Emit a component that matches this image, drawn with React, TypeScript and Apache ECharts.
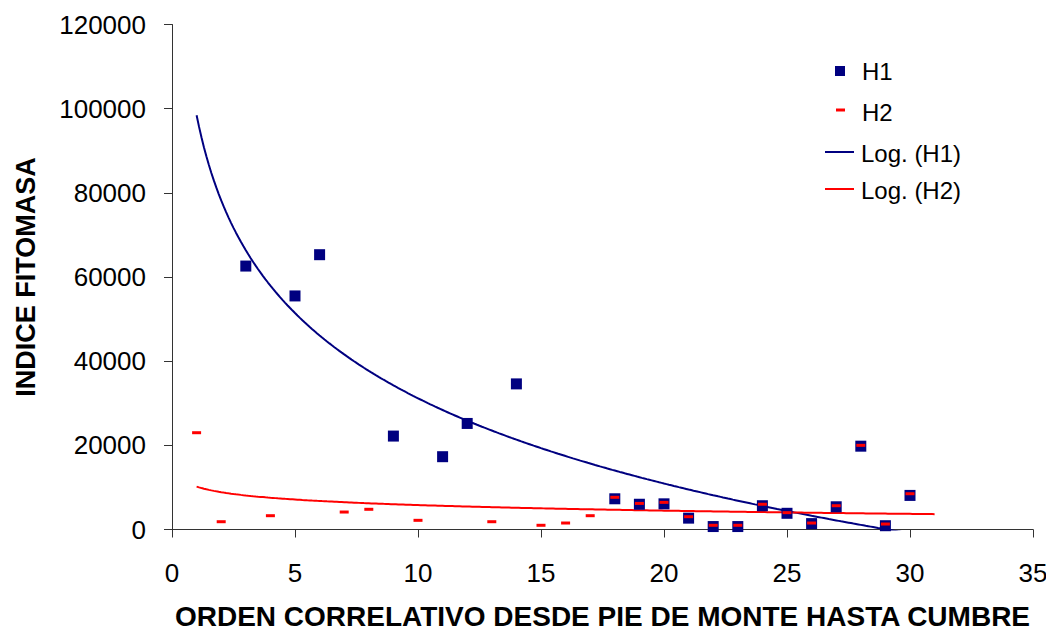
import React, { useEffect, useRef } from "react";
import * as echarts from "echarts";

// H1 observations
const h1X = [3, 5, 6, 9, 11, 12, 14, 18, 19, 20, 21, 22, 23, 24, 25, 26, 27, 28, 29, 30];
const h1Y = [62600, 55500, 65300, 22200, 17300, 25200, 34600, 7300, 6000, 6100, 2700, 700, 700, 5650, 3850, 1400, 5400, 19800, 900, 8100];

// H2 observations
const h2X = [1, 2, 4, 7, 8, 10, 13, 15, 16, 17, 18, 19, 20, 21, 22, 23, 24, 25, 26, 27, 28, 29, 30];
const h2Y = [23000, 1850, 3280, 4150, 4800, 2180, 1850, 1000, 1540, 3280, 7650, 6200, 6450, 3040, 1000, 1000, 6000, 4000, 1540, 5650, 20000, 1300, 8500];

// axis ticks
const xTicks = [0, 5, 10, 15, 20, 25, 30, 35];
const yTicks = [0, 20000, 40000, 60000, 80000, 100000, 120000];

// trend line range (Excel logarithmic trendline, forecast)
const trendStart = 1;
const trendEnd = 31;
const trendStep = 0.1;

const FONT = "'Liberation Sans', Arial, Helvetica, sans-serif";
const NAVY = "#000080";
const RED = "#FF0000";

function logFit(xs: number[], ys: number[]) {
  const n = xs.length;
  const lx = xs.map((x) => Math.log(x));
  const mx = lx.reduce((s, v) => s + v, 0) / n;
  const my = ys.reduce((s, v) => s + v, 0) / n;
  let sxy = 0;
  let sxx = 0;
  for (let i = 0; i < n; i++) {
    sxy += (lx[i] - mx) * (ys[i] - my);
    sxx += (lx[i] - mx) * (lx[i] - mx);
  }
  const a = sxy / sxx;
  const b = my - a * mx;
  return { a, b };
}

function trendLine(xs: number[], ys: number[]) {
  const { a, b } = logFit(xs, ys);
  const out: number[][] = [];
  const steps = Math.round((trendEnd - trendStart) / trendStep);
  for (let i = 0; i <= steps; i++) {
    const x = trendStart + i * trendStep;
    out.push([x, a * Math.log(x) + b]);
  }
  return out;
}

export default function App() {
  const ref = useRef<HTMLDivElement>(null);

  useEffect(() => {
    if (!ref.current) return;
    const chart = echarts.init(ref.current, undefined, { renderer: "svg" });

    const h1Data = h1X.map((x, i) => [x, h1Y[i]]);
    const h2Data = h2X.map((x, i) => [x, h2Y[i]]);

    const axisColor = "#333333";

    chart.setOption({
      animation: false,
      backgroundColor: "#ffffff",
      textStyle: { fontFamily: FONT },
      grid: {
        left: 172,
        right: 13,
        top: 24.5,
        bottom: 101.5,
        containLabel: false,
        outerBoundsMode: "none",
      },
      xAxis: {
        type: "value",
        min: xTicks[0],
        max: xTicks[xTicks.length - 1],
        interval: 5,
        name: "ORDEN CORRELATIVO DESDE PIE DE MONTE HASTA CUMBRE",
        nameLocation: "middle",
        nameGap: 87,
        nameTextStyle: {
          fontFamily: FONT,
          fontSize: 28,
          lineHeight: 26,
          fontWeight: "bold",
          color: "#000",
          verticalAlign: "middle",
        },
        axisLine: { show: true, onZero: false, lineStyle: { color: axisColor, width: 1 } },
        axisTick: { show: true, inside: false, length: 8, lineStyle: { color: axisColor } },
        axisLabel: {
          fontFamily: FONT,
          fontSize: 26,
          color: "#000",
          margin: 30,
          formatter: (v: number) => String(v),
        },
        splitLine: { show: false },
      },
      yAxis: {
        type: "value",
        min: yTicks[0],
        max: yTicks[yTicks.length - 1],
        interval: 20000,
        name: "INDICE FITOMASA",
        nameLocation: "middle",
        nameGap: 133,
        nameRotate: 90,
        nameTextStyle: {
          fontFamily: FONT,
          fontSize: 27,
          fontWeight: "bold",
          color: "#000",
        },
        axisLine: { show: true, onZero: false, lineStyle: { color: axisColor, width: 1 } },
        axisTick: { show: true, inside: false, length: 8, lineStyle: { color: axisColor } },
        axisLabel: {
          fontFamily: FONT,
          fontSize: 26,
          color: "#000",
          margin: 26,
          formatter: (v: number) => String(v),
        },
        splitLine: { show: false },
      },
      series: [
        {
          name: "Log. (H1)",
          type: "line",
          data: trendLine(h1X, h1Y),
          showSymbol: false,
          symbol: "none",
          smooth: false,
          clip: true,
          lineStyle: { color: NAVY, width: 2 },
          itemStyle: { color: NAVY },
          z: 2,
        },
        {
          name: "Log. (H2)",
          type: "line",
          data: trendLine(h2X, h2Y),
          showSymbol: false,
          symbol: "none",
          smooth: false,
          clip: true,
          lineStyle: { color: RED, width: 2 },
          itemStyle: { color: RED },
          z: 2,
        },
        {
          name: "H1",
          type: "scatter",
          data: h1Data,
          symbol: "rect",
          symbolSize: 11,
          itemStyle: { color: NAVY, opacity: 1 },
          z: 3,
        },
        {
          name: "H2",
          type: "scatter",
          data: h2Data,
          symbol: "rect",
          symbolSize: [9, 3],
          itemStyle: { color: RED, opacity: 1 },
          z: 4,
        },
      ],
      graphic: [
        { type: "rect", shape: { x: 835, y: 66, width: 10, height: 10 }, style: { fill: NAVY } },
        {
          type: "text",
          x: 862,
          y: 71,
          style: { text: "H1", fontSize: 24, fontFamily: FONT, fill: "#000", verticalAlign: "middle", align: "left" },
        },
        { type: "rect", shape: { x: 836, y: 108.5, width: 9, height: 3 }, style: { fill: RED } },
        {
          type: "text",
          x: 862,
          y: 112,
          style: { text: "H2", fontSize: 24, fontFamily: FONT, fill: "#000", verticalAlign: "middle", align: "left" },
        },
        {
          type: "line",
          shape: { x1: 825, y1: 152, x2: 854, y2: 152 },
          style: { stroke: NAVY, lineWidth: 2 },
        },
        {
          type: "text",
          x: 861,
          y: 153,
          style: { text: "Log. (H1)", fontSize: 24, fontFamily: FONT, fill: "#000", verticalAlign: "middle", align: "left" },
        },
        {
          type: "line",
          shape: { x1: 825, y1: 189, x2: 854, y2: 189 },
          style: { stroke: RED, lineWidth: 2 },
        },
        {
          type: "text",
          x: 861,
          y: 190,
          style: { text: "Log. (H2)", fontSize: 24, fontFamily: FONT, fill: "#000", verticalAlign: "middle", align: "left" },
        },
      ],
    });

    return () => {
      chart.dispose();
    };
  }, []);

  return (
    <div
      ref={ref}
      style={{ position: "fixed", left: 0, top: 0, width: 1046, height: 631, background: "#fff" }}
    />
  );
}
